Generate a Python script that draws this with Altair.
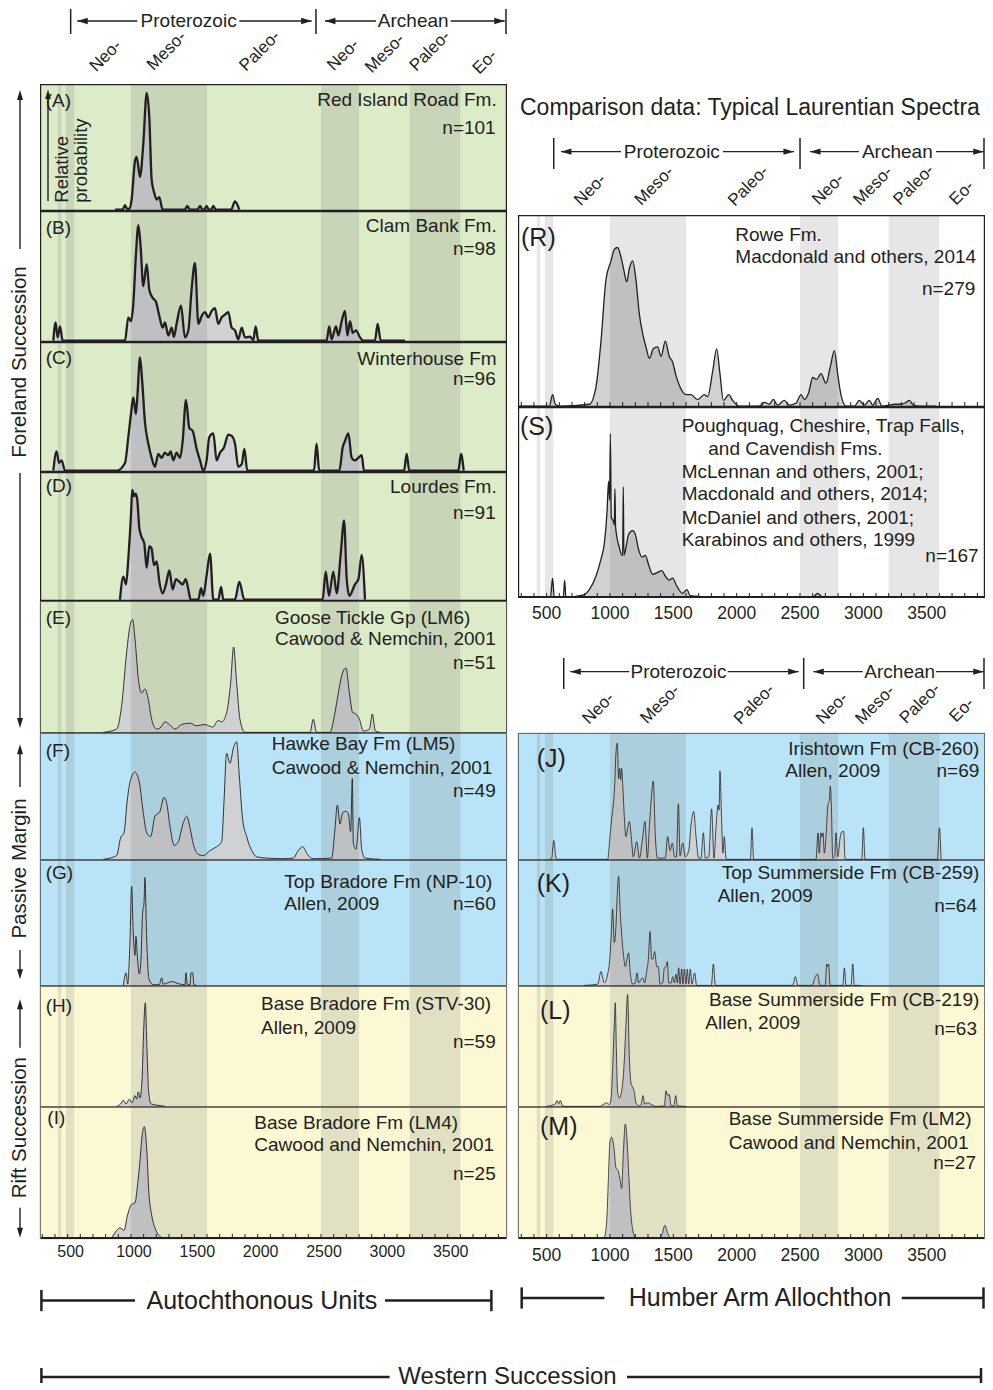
import altair as alt
import pandas as pd

FONT = "Liberation Sans"
INK = "#231f20"
GREEN = "#dcebc8"
BLUE = "#b9e3f6"
YELLOW = "#fbf8d3"
WHITE = "#ffffff"
FILL = "#d0d1d3"
BAND = "#777777"

LEFT_DOMAIN = [282, 3968]
RIGHT_DOMAIN = [274, 3960]
LW = 467
RW = 467
PX_PER_MA = 0.1267

# shaded age intervals (Ma)
BAND_START = [423, 486, 1000, 2500, 3200]
BAND_END = [450, 552, 1600, 2800, 3600]
AXIS_LABELS = [500, 1000, 1500, 2000, 2500, 3000, 3500]
MINOR_TICKS = [300, 400, 500, 600, 700, 800, 900, 1000, 1100, 1200, 1300, 1400, 1500,
               1600, 1700, 1800, 1900, 2000, 2100, 2200, 2300, 2400, 2500, 2600, 2700,
               2800, 2900, 3000, 3100, 3200, 3300, 3400, 3500, 3600, 3700, 3800, 3900]
SUB_ERAS = ["Neo-", "Meso-", "Paleo-", "Neo-", "Meso-", "Paleo-", "Eo-"]

# ---------------- probability curves (age Ma, relative height %) ----------------
A_AGE = [874, 935, 953, 970, 990, 1005, 1032, 1045, 1071, 1097, 1124, 1145, 1163, 1182, 1203, 1223, 1250,
         1425, 1445, 1465, 1525, 1545, 1565, 1580, 1597, 1614, 1632, 1650, 1668, 1790, 1821, 1855]
A_VAL = [0, 0, 3.5, 0.5, 1, 8, 39, 42, 26, 52, 93, 73, 24, 14, 8, 10, 0,
         0, 3, 0, 0, 3, 0, 0, 3, 0, 0, 3, 0, 0, 6.5, 0]

B_AGE = [387, 405, 421, 440, 461, 953, 979, 1000, 1018, 1039, 1058, 1076, 1097, 1124, 1145,
         1171, 1197, 1224, 1250, 1268, 1295, 1321, 1339, 1360, 1395, 1426, 1453, 1479, 1505, 1532,
         1558, 1584, 1610, 1637, 1663, 1689, 1716, 1742, 1768, 1795, 1821, 1847, 1874, 1900, 1939,
         1966, 1984, 2005, 2544, 2565, 2584, 2618, 2637, 2663, 2689, 2708, 2729, 2750, 2776, 2808,
         2834, 2926, 2947, 2971, 3163]
B_VAL = [0, 14, 2.5, 11, 0, 0, 18, 15, 28, 66, 89, 73, 42, 59, 39,
         33, 30, 19, 10, 14, 4, 10, 3, 13, 27, 2.5, 8, 40, 60, 13,
         19, 22, 18, 23, 25, 13, 18, 20, 22, 10, 8, 1, 10, 2.5, 3,
         0.5, 11, 0, 0, 11, 1, 11, 4, 15, 23, 4, 15, 6, 8, 2.5,
         0, 0, 13, 0, 0]

C_AGE = [387, 413, 432, 453, 479, 887, 953, 979, 1000, 1018, 1039, 1052, 1071, 1089, 1110,
         1137, 1163, 1189, 1216, 1242, 1268, 1295, 1313, 1334, 1360, 1387, 1408, 1434, 1461, 1487,
         1518, 1545, 1571, 1597, 1618, 1650, 1676, 1703, 1734, 1768, 1795, 1821, 1847, 1874, 1895,
         1918, 2444, 2465, 2486, 2645, 2671, 2689, 2716, 2742, 2768, 2795, 2821, 2839,
         3155, 3176, 3197, 3584, 3605, 3626]
C_VAL = [0, 15, 6, 8, 0, 0, 6, 26, 44, 57, 44, 60, 88, 69, 38,
         21, 10, 3, 13, 10, 14, 12, 15, 8, 14, 10, 23, 55, 33, 31,
         17, 8, 0, 8, 26, 29, 8, 14, 18, 28, 27, 21, 3, 5, 17,
         0, 0, 21, 0, 0, 18, 23, 29, 10, 8, 10, 12, 0,
         0, 13, 0, 0, 13, 0]

D_AGE = [913, 940, 961, 979, 1000, 1010, 1024, 1037, 1050, 1066, 1084, 1105, 1124, 1145, 1163,
         1182, 1203, 1224, 1250, 1276, 1303, 1329, 1355, 1382, 1408, 1432, 1453, 1471, 1532, 1553,
         1571, 1597, 1624, 1650, 1689, 1711, 1729, 1821, 1855, 1895, 2513, 2537, 2563, 2597, 2624,
         2655, 2682, 2703, 2724, 2768, 2795, 2821, 2847]
D_VAL = [0, 18, 12, 32, 66, 86, 81, 83, 78, 56, 49, 44, 25, 42, 40,
         27, 30, 14, 5, 12, 23, 8, 16, 14, 12, 16, 8, 0, 0, 9,
         3, 19, 36, 0, 0, 10, 0, 0, 14, 0, 0, 22, 3, 22, 5,
         35, 62, 16, 3, 12, 16, 35, 0]

E_AGE = [782, 887, 926, 966, 992, 1013, 1032, 1058, 1084, 1110, 1137, 1163, 1203, 1237, 1268,
         1303, 1347, 1400, 1466, 1518, 1584, 1645, 1689, 1716, 1755, 1787, 1810, 1834, 1860, 1900,
         2413, 2439, 2465, 2570, 2610, 2637, 2663, 2697, 2724, 2750, 2776, 2803, 2834, 2882, 2905,
         2929, 2966]
E_VAL = [0, 2.5, 20, 61, 81, 86, 71, 41, 30, 33, 25, 10, 2.5, 4, 8,
         6, 2.5, 6, 7, 5, 6, 4, 9, 8, 15, 38, 65, 38, 10, 0,
         0, 10, 0, 0, 15, 30, 43, 49, 30, 15, 14, 10, 1, 2.5, 14,
         1, 0]

F_AGE = [782, 887, 918, 945, 971, 997, 1032, 1066, 1097, 1124, 1155, 1189, 1229, 1260, 1281,
         1308, 1342, 1374, 1413, 1440, 1466, 1492, 1532, 1571, 1624, 1676, 1716, 1734, 1755, 1782,
         1808, 1834, 1855, 1881, 1913, 1953, 1992, 2071, 2203, 2281, 2321, 2355, 2392, 2439, 2584,
         2610, 2629, 2650, 2671, 2697, 2716, 2734, 2747, 2755, 2776, 2803, 2821, 2847, 2966]
F_VAL = [0, 3, 17, 21, 47, 63, 69, 61, 37, 21, 18, 34, 38, 49, 45,
         26, 11, 14, 29, 34, 25, 12, 4, 3, 7, 10, 14, 45, 84, 76,
         88, 93, 66, 32, 18, 7, 2, 1, 0.5, 1, 7, 10, 4, 0.5, 1,
         24, 43, 28, 37, 38, 36, 22, 64, 13, 8, 33, 8, 1, 0]

G_AGE = [940, 961, 974, 992, 1005, 1018, 1032, 1039, 1052, 1066, 1079, 1092, 1103, 1110, 1124,
         1142, 1176, 1224, 1242, 1255, 1321, 1387, 1426, 1434, 1445, 1466, 1474, 1487, 1497, 1518]
G_VAL = [0, 10, 1, 34, 79, 42, 24, 39, 21, 9, 21, 58, 66, 86, 37,
         5, 0.5, 0.5, 6, 1, 3, 1, 0.5, 10, 0.5, 0.5, 10, 10, 0.5, 0]

H_AGE = [887, 918, 940, 961, 987, 1008, 1032, 1045, 1058, 1071, 1087, 1100, 1113, 1126, 1139, 1158, 1203, 1268]
H_VAL = [0, 2, 5, 2, 6, 3, 9, 6, 12, 7, 21, 63, 86, 49, 13, 2, 1, 0]

I_AGE = [847, 887, 913, 945, 971, 1005, 1032, 1050, 1071, 1089, 1105, 1124, 1142, 1163, 1189, 1224, 1255]
I_VAL = [0, 6, 8, 6, 17, 26, 27, 39, 59, 79, 85, 69, 34, 18, 8, 2, 0]

R_AGE = [284, 521, 547, 568, 600, 837, 889, 929, 968, 1008, 1034, 1060, 1087, 1113, 1132,
         1153, 1179, 1205, 1232, 1258, 1284, 1311, 1342, 1376, 1403, 1437, 1468, 1495, 1521, 1553,
         1600, 1639, 1692, 1745, 1771, 1810, 1842, 1868, 1895, 1937, 1968, 2021, 2179, 2218, 2258,
         2289, 2323, 2376, 2416, 2468, 2508, 2534, 2568, 2600, 2631, 2666, 2705, 2737, 2771, 2797,
         2823, 2863, 2929, 2968, 3008, 3047, 3074, 3113, 3147, 3258, 3297, 3337, 3363, 3395, 3442, 3574]
R_VAL = [0, 0, 6, 1, 0, 1, 10, 34, 66, 76, 82, 83, 78, 70, 65,
         72, 76, 66, 48, 38, 31, 25, 30, 31, 26, 34, 26, 23, 16, 10,
         6, 6, 3.5, 6, 5, 18, 30, 17, 3, 6, 3, 0, 0, 2, 1,
         3.5, 0.5, 3, 0.5, 1.5, 6, 3.5, 7, 15, 14, 17, 12, 20, 29, 17,
         6, 0, 0, 3, 0.5, 3, 0.5, 4, 0, 1, 1, 2, 3, 0.5, 0, 0]

S_AGE = [274, 530, 547, 560, 632, 642, 652, 784, 837, 889, 929, 955, 976, 989, 997,
         1003, 1010, 1026, 1034, 1039, 1044, 1074, 1095, 1100, 1105, 1110, 1126, 1147, 1179, 1200,
         1226, 1253, 1279, 1305, 1337, 1376, 1410, 1437, 1468, 1495, 1526, 1574, 1608, 1631, 1679,
         1810, 2600, 2639, 2679, 2784]
S_VAL = [0, 0, 10, 0, 0, 9, 0, 1, 4, 11, 20, 28, 44, 61, 51,
         86, 42, 40, 38, 57, 37, 26, 22, 22, 58, 22, 26, 33, 35, 33,
         25, 21, 22, 17, 12, 13, 14, 11, 9, 10, 6, 2, 4, 1, 0.5,
         0, 0, 2, 0, 0]

J_AGE = [521, 540, 556, 574, 587, 982, 1000, 1016, 1026, 1037, 1047, 1058, 1068, 1076, 1084,
         1092, 1100, 1113, 1126, 1142, 1153, 1168, 1184, 1211, 1232, 1253, 1276, 1295, 1311, 1326,
         1342, 1358, 1376, 1437, 1455, 1474, 1492, 1510, 1524, 1540, 1553, 1574, 1595, 1621, 1642,
         1661, 1679, 1700, 1718, 1737, 1753, 1779, 1802, 1821, 1837, 1853, 1861, 1868, 1881, 1892,
         1902, 1916, 1929, 2108, 2121, 2134, 2626, 2642, 2652, 2665, 2673, 2681, 2692, 2705, 2721,
         2731, 2739, 2747, 2758, 2773, 2784, 2797, 2818, 2831, 2845, 2855, 2863, 2987, 3000, 3013,
         3584, 3600, 3613]
J_VAL = [0, 1, 15, 1, 0, 0, 18, 35, 43, 58, 84, 92, 64, 72, 63,
         72, 60, 34, 18, 26, 30, 18, 2, 14, 1, 13, 30, 1, 26, 48,
         62, 18, 1, 1, 18, 7, 13, 2, 2, 44, 3, 13, 2, 7, 29,
         38, 18, 1, 1, 21, 1, 2, 40, 1, 26, 43, 39, 70, 31, 5,
         18, 1, 0, 0, 25, 0, 0, 21, 5, 21, 18, 21, 5, 18, 44,
         46, 58, 44, 1, 2, 21, 2, 18, 22, 22, 1, 0, 0, 25, 0,
         0, 25, 0]

K_AGE = [797, 903, 929, 955, 982, 1000, 1011, 1021, 1034, 1047, 1058, 1068, 1081, 1095, 1108,
         1121, 1134, 1147, 1160, 1179, 1200, 1213, 1226, 1245, 1258, 1274, 1289, 1303, 1316, 1329,
         1339, 1353, 1361, 1368, 1382, 1395, 1416, 1429, 1442, 1453, 1463, 1482, 1495, 1508, 1521,
         1532, 1542, 1553, 1566, 1576, 1587, 1600, 1610, 1621, 1634, 1647, 1668, 1684, 1800, 1816,
         1832, 2442, 2463, 2484, 2595, 2621, 2639, 2657, 2700, 2710, 2718, 2726, 2737, 2837, 2850,
         2863, 2903, 2916, 2929, 2981]
K_VAL = [0, 1, 11, 2, 9, 23, 42, 61, 34, 47, 74, 87, 58, 37, 23,
         15, 21, 26, 10, 1, 2, 10, 2, 5, 6, 2, 11, 21, 43, 21,
         21, 27, 21, 15, 15, 1, 2, 14, 15, 19, 2, 2, 7, 2, 9,
         2, 14, 1, 13, 1, 13, 1, 13, 1, 13, 1, 10, 0, 0, 17,
         0, 0, 7, 0, 0, 7, 9, 0, 0, 17, 15, 17, 0, 0, 14,
         0, 0, 17, 0, 0]

L_AGE = [495, 568, 582, 595, 608, 626, 653, 916, 955, 974, 995, 1011, 1021, 1034, 1042,
         1050, 1060, 1074, 1087, 1100, 1113, 1126, 1139, 1153, 1166, 1179, 1192, 1205, 1232, 1247,
         1260, 1274, 1297, 1329, 1363, 1429, 1442, 1455, 1468, 1482, 1503, 1519, 1532, 1600]
L_VAL = [0, 2, 5, 2, 5, 0.5, 0, 0, 2, 3, 1.5, 9, 32, 68, 86,
         49, 12, 7, 10, 19, 38, 68, 93, 41, 19, 16, 12, 3, 0.5, 2,
         9, 2, 3, 1.5, 0, 0.5, 13, 9, 10, 0.5, 0.5, 9, 0.5, 0]

M_AGE = [955, 974, 987, 1000, 1013, 1029, 1047, 1066, 1081, 1092, 1105, 1121, 1134, 1147, 1163,
         1179, 1205, 1389, 1410, 1434, 1455, 1482]
M_VAL = [0, 13, 44, 74, 77, 71, 54, 51, 44, 38, 64, 87, 76, 51, 21,
         7, 0, 0, 3, 10, 4, 0]

# arrow-head symbols (centred on the mark position)
UP = "M0,-1L-0.6,1L0.6,1Z"
DOWN = "M0,1L-0.6,-1L0.6,-1Z"
LEFTA = "M-1,0L1,-0.6L1,0.6Z"
RIGHTA = "M1,0L-1,-0.6L-1,0.6Z"
HEAD_SIZE = 110
HEAD_HALF = HEAD_SIZE ** 0.5 / 2


def blank():
    return alt.Chart(pd.DataFrame({"k": [0]}))


def label(s, x, y, size=19, align="left", angle=0):
    return blank().mark_text(text=s, font=FONT, fontSize=size, align=align, baseline="middle",
                             angle=angle, color=INK).encode(x=alt.value(x), y=alt.value(y))


def vrule(x, y0, y1, w=1.4):
    return blank().mark_rule(color=INK, strokeWidth=w).encode(
        x=alt.value(x), y=alt.value(y0), y2=alt.value(y1))


def hrule(x0, x1, y, w=1.4):
    return blank().mark_rule(color=INK, strokeWidth=w).encode(
        x=alt.value(x0), x2=alt.value(x1), y=alt.value(y))


def arrow_up(x, tip, size=100):
    return blank().mark_point(shape=UP, filled=True, size=size, color=INK, opacity=1,
                              strokeWidth=0).encode(x=alt.value(x), y=alt.value(tip + size ** 0.5 / 2))


def arrow_down(x, tip, size=100):
    return blank().mark_point(shape=DOWN, filled=True, size=size, color=INK, opacity=1,
                              strokeWidth=0).encode(x=alt.value(x), y=alt.value(tip - size ** 0.5 / 2))


def xq(field, sc):
    return alt.X(field, type="quantitative", scale=sc, axis=None)


def panel(ages, vals, w, h, domain, bg, lw, bw, texts, ticks=False, base=False, extra=None):
    sc = alt.Scale(domain=domain, nice=False, zero=False)
    ysc = alt.Scale(domain=[0, 100], range=[h - lw / 2 - 0.2, 0], nice=False, zero=True)
    df = pd.DataFrame({"age": ages, "v": vals})
    bands = pd.DataFrame({"s": BAND_START, "e": BAND_END})
    layers = [
        blank().mark_rect(color=bg).encode(x=alt.value(0), x2=alt.value(w),
                                           y=alt.value(0), y2=alt.value(h)),
        alt.Chart(df).mark_area(color=FILL, interpolate="monotone").encode(
            x=xq("age", sc), y=alt.Y("v:Q", scale=ysc, axis=None)),
        alt.Chart(bands).mark_rect(color=BAND, opacity=0.18).encode(
            x=xq("s", sc), x2="e:Q", y=alt.value(0), y2=alt.value(h)),
        alt.Chart(df).mark_line(color=INK, strokeWidth=lw, interpolate="monotone",
                                strokeJoin="round").encode(
            x=xq("age", sc), y=alt.Y("v:Q", scale=ysc, axis=None)),
    ]
    if ticks:
        layers.append(alt.Chart(pd.DataFrame({"t": MINOR_TICKS})).mark_rule(
            color=INK, strokeWidth=1).encode(x=xq("t", sc), y=alt.value(h - 5), y2=alt.value(h - 0.5)))
    if base:
        layers.append(hrule(1, w - 1, h - 1, 2))
    layers.append(blank().mark_rect(fill="transparent", stroke=INK, strokeWidth=bw).encode(
        x=alt.value(bw / 2), x2=alt.value(w - bw / 2), y=alt.value(bw / 2), y2=alt.value(h - bw / 2)))
    for t in texts:
        layers.append(label(*t))
    if extra:
        layers.extend(extra)
    return alt.layer(*layers).properties(width=w, height=h)


def era_header(w, h, domain, vl, vy0, vy1, ay, prot, arch, sub_ages, sub_y, extra=None):
    sc = alt.Scale(domain=domain, nice=False, zero=False)
    shift = HEAD_HALF / PX_PER_MA
    segs = pd.DataFrame({"a": [prot[0], prot[3], arch[0], arch[3]],
                         "b": [prot[1], prot[4], arch[1], arch[4]]})
    eras = pd.DataFrame({"a": [prot[2], arch[2]], "lab": ["Proterozoic", "Archean"]})
    subs = pd.DataFrame({"a": sub_ages, "y": sub_y, "lab": SUB_ERAS})
    layers = [
        alt.Chart(pd.DataFrame({"a": vl})).mark_rule(color=INK, strokeWidth=1.5).encode(
            x=xq("a", sc), y=alt.value(vy0), y2=alt.value(vy1)),
        alt.Chart(segs).mark_rule(color=INK, strokeWidth=1.3).encode(
            x=xq("a", sc), x2="b:Q", y=alt.value(ay)),
        alt.Chart(pd.DataFrame({"a": [prot[0] + shift, arch[0] + shift]})).mark_point(
            shape=LEFTA, filled=True, size=HEAD_SIZE, color=INK, opacity=1, strokeWidth=0).encode(
            x=xq("a", sc), y=alt.value(ay)),
        alt.Chart(pd.DataFrame({"a": [prot[4] - shift, arch[4] - shift]})).mark_point(
            shape=RIGHTA, filled=True, size=HEAD_SIZE, color=INK, opacity=1, strokeWidth=0).encode(
            x=xq("a", sc), y=alt.value(ay)),
        alt.Chart(eras).mark_text(font=FONT, fontSize=19, color=INK, baseline="middle").encode(
            x=xq("a", sc), y=alt.value(ay), text="lab:N"),
        alt.Chart(subs).mark_text(font=FONT, fontSize=17, color=INK, angle=315,
                                  baseline="middle", align="center").encode(
            x=xq("a", sc), y=alt.Y("y:Q", scale=None), text="lab:N"),
    ]
    if extra:
        layers = extra + layers
    return alt.layer(*layers).properties(width=w, height=h)


def tick_labels(domain, y, size, dx=0):
    sc = alt.Scale(domain=domain, nice=False, zero=False)
    return alt.Chart(pd.DataFrame({"t": AXIS_LABELS})).mark_text(
        font=FONT, fontSize=size, color=INK, baseline="middle", dx=dx).encode(
        x=xq("t", sc), y=alt.value(y), text=alt.Text("t:Q", format="d"))


# ---------------- left column ----------------
headL = era_header(LW, 75, LEFT_DOMAIN, [524, 2460, 3960], 0, 25, 12,
                   [576, 1050, 1455, 1855, 2426], [2531, 2934, 3228, 3523, 3950],
                   [800, 1282, 2018, 2676, 3005, 3360, 3794], [47, 42, 42, 46, 44.5, 42, 53])

thick, thin = 2.3, 0.9
pA = panel(A_AGE, A_VAL, LW, 127, LEFT_DOMAIN, GREEN, thick, 1.2,
           [("(A)", 5.7, 16.7), ("Red Island Road Fm.", 456.7, 16.3, 19, "right"),
            ("n=101", 455.7, 43.7, 19, "right")],
           extra=[vrule(8, 117, 12, 1.4), arrow_up(8, 5.5, 90),
                  label("Relative", 21.7, 118.7, 18.5, "left", 270),
                  label("probability", 41.2, 118.7, 18.5, "left", 270)])
pB = panel(B_AGE, B_VAL, LW, 131, LEFT_DOMAIN, GREEN, thick, 1.2,
           [("(B)", 5.7, 16.7), ("Clam Bank Fm.", 456.7, 15, 19, "right"),
            ("n=98", 455.7, 38.3, 19, "right")])
pC = panel(C_AGE, C_VAL, LW, 130, LEFT_DOMAIN, GREEN, thick, 1.2,
           [("(C)", 5.7, 15.7), ("Winterhouse Fm", 456.7, 16.7, 19, "right"),
            ("n=96", 455.7, 37.3, 19, "right")])
pD = panel(D_AGE, D_VAL, LW, 129, LEFT_DOMAIN, GREEN, thick, 1.2,
           [("(D)", 5.7, 14), ("Lourdes Fm.", 456.7, 14.7, 19, "right"),
            ("n=91", 455.7, 40.7, 19, "right")])
pE = panel(E_AGE, E_VAL, LW, 132, LEFT_DOMAIN, GREEN, thin, 0.8,
           [("(E)", 5.7, 16.7), ("Goose Tickle Gp (LM6)", 235, 16.7),
            ("Cawood & Nemchin, 2001", 235, 38.3), ("n=51", 455.7, 61.7, 19, "right")])
pF = panel(F_AGE, F_VAL, LW, 127, LEFT_DOMAIN, BLUE, thin, 0.7,
           [("(F)", 5.7, 18.3), ("Hawke Bay Fm (LM5)", 231.7, 11.3),
            ("Cawood & Nemchin, 2001", 231.7, 34.7), ("n=49", 455.7, 58, 19, "right")])
pG = panel(G_AGE, G_VAL, LW, 126, LEFT_DOMAIN, BLUE, thin, 0.7,
           [("(G)", 5.7, 12.7), ("Top Bradore Fm (NP-10)", 244.3, 22),
            ("Allen, 2009", 244.3, 44), ("n=60", 455.7, 44, 19, "right")])
pH = panel(H_AGE, H_VAL, LW, 121, LEFT_DOMAIN, YELLOW, thin, 0.7,
           [("(H)", 5.7, 20), ("Base Bradore Fm (STV-30)", 221, 18.3),
            ("Allen, 2009", 221, 41.7), ("n=59", 455.7, 55.7, 19, "right")])
pI = panel(I_AGE, I_VAL, LW, 132, LEFT_DOMAIN, YELLOW, thin, 0.7,
           [("(I)", 7.3, 11), ("Base Bradore Fm (LM4)", 214.3, 15.7),
            ("Cawood and Nemchin, 2001", 214.3, 38), ("n=25", 455.7, 66.7, 19, "right")],
           ticks=True, base=True)

footL = alt.layer(
    tick_labels(LEFT_DOMAIN, 13, 16, 3),
    hrule(1.4, 95, 61.6, 2.5), hrule(345, 451.4, 61.6, 2.5),
    vrule(1.4, 51, 72.2, 2.5), vrule(451.4, 51, 72.2, 2.5),
    label("Autochthonous Units", 221.8, 61.6, 25, "center"),
).properties(width=LW, height=97)

left_col = alt.vconcat(headL, pA, pB, pC, pD, pE, pF, pG, pH, pI, footL, spacing=0)

# ---------------- right column ----------------
headR1 = era_header(RW, 206, RIGHT_DOMAIN, [556, 2500, 3952], 129, 160, 142.7,
                    [613, 1087, 1488, 1892, 2452], [2579, 2965, 3268, 3573, 3950],
                    [844, 1350, 2093, 2723, 3077, 3399, 3778], [181, 177, 177, 180.3, 177, 176, 184],
                    extra=[label("Comparison data: Typical Laurentian Spectra", 2, 99, 23)])

pR = panel(R_AGE, R_VAL, RW, 192, RIGHT_DOMAIN, WHITE, 1.3, 1.2,
           [("(R)", 3, 22.7, 25), ("Rowe Fm.", 217.3, 20), ("Macdonald and others, 2014", 217.3, 42),
            ("n=279", 457.3, 74.3, 19, "right")], ticks=True)
pS = panel(S_AGE, S_VAL, RW, 191, RIGHT_DOMAIN, WHITE, 1.3, 1.2,
           [("(S)", 2, 20, 25), ("Poughquag, Cheshire, Trap Falls,", 163.7, 19),
            ("and Cavendish Fms.", 190.3, 41.7), ("McLennan and others, 2001;", 163.7, 64.7),
            ("Macdonald and others, 2014;", 163.7, 87.3), ("McDaniel and others, 2001;", 163.7, 110.7),
            ("Karabinos and others, 1999", 163.7, 133.3), ("n=167", 460.7, 149.3, 19, "right")],
           ticks=True, base=True)

headR2 = era_header(RW, 135, RIGHT_DOMAIN, [635, 2529, 3952], 60, 91, 73.7,
                    [687, 1152, 1541, 1929, 2489], [2605, 2995, 3287, 3573, 3950],
                    [909, 1396, 2139, 2754, 3093, 3447, 3778], [110.5, 106.3, 106.3, 110.5, 107, 105.5, 112],
                    extra=[tick_labels(RIGHT_DOMAIN, 15.7, 17.5)])

pJ = panel(J_AGE, J_VAL, RW, 127, RIGHT_DOMAIN, BLUE, 0.8, 0.7,
           [("(J)", 18.7, 26.3, 25), ("Irishtown Fm (CB-260)", 461.3, 15.7, 19, "right"),
            ("Allen, 2009", 267.3, 38), ("n=69", 461.3, 38, 19, "right")])
pK = panel(K_AGE, K_VAL, RW, 126, RIGHT_DOMAIN, BLUE, 0.8, 0.7,
           [("(K)", 18.7, 24.3, 25), ("Top Summerside Fm (CB-259)", 461.3, 12.7, 19, "right"),
            ("Allen, 2009", 199.7, 36), ("n=64", 459, 46, 19, "right")])
pL = panel(L_AGE, L_VAL, RW, 121, RIGHT_DOMAIN, YELLOW, 0.8, 0.7,
           [("(L)", 22, 25, 25), ("Base Summerside Fm (CB-219)", 461.3, 14, 19, "right"),
            ("Allen, 2009", 187.3, 36.7), ("n=63", 459, 43.3, 19, "right")])
pM = panel(M_AGE, M_VAL, RW, 132, RIGHT_DOMAIN, YELLOW, 0.8, 0.7,
           [("(M)", 22, 19.7, 25), ("Base Summerside Fm (LM2)", 210.7, 12.3),
            ("Cawood and Nemchin, 2001", 210.7, 35.7), ("n=27", 458, 55.7, 19, "right")],
           ticks=True, base=True)

footR = alt.layer(
    tick_labels(RIGHT_DOMAIN, 17, 17.5),
    hrule(3.7, 86.4, 59, 2.5), hrule(383.7, 465.5, 59, 2.5),
    vrule(3.7, 48.4, 69.6, 2.5), vrule(465.5, 48.4, 69.6, 2.5),
    label("Humber Arm Allochthon", 242, 59, 25, "center"),
).properties(width=RW, height=97)

right_col = alt.vconcat(headR1, pR, pS, headR2, pJ, pK, pL, pM, footR, spacing=0)

# ---------------- side labels ----------------
side = alt.layer(
    arrow_up(12, 81), vrule(12, 85, 240), vrule(12, 464, 715), arrow_down(12, 719),
    label("Foreland Succession", 11.5, 353, 20.5, "center", 270),
    arrow_up(12, 735.3), vrule(12, 739, 778), vrule(12, 941, 966), arrow_down(12, 970.3),
    label("Passive Margin", 11.5, 859.5, 20.5, "center", 270),
    arrow_up(12, 990.3), vrule(12, 994, 1038.7), vrule(12, 1198.7, 1224), arrow_down(12, 1228.7),
    label("Rift Succession", 11.5, 1118.7, 20.5, "center", 270),
).properties(width=22, height=1230)

footer = alt.layer(
    hrule(33.4, 381.6, 41, 2.5), hrule(619, 973, 41, 2.5),
    vrule(33.4, 32, 47, 2.5), vrule(973, 32, 47, 2.5),
    label("Western Succession", 499.5, 41, 24, "center"),
).properties(width=976, height=47)

row = alt.hconcat(side, left_col, right_col, spacing=10)
chart = alt.vconcat(row, footer, spacing=0).properties(
    padding=0, background="white").configure_view(stroke=None)

chart.save("out.html", embed_options={"renderer": "svg", "actions": False})
